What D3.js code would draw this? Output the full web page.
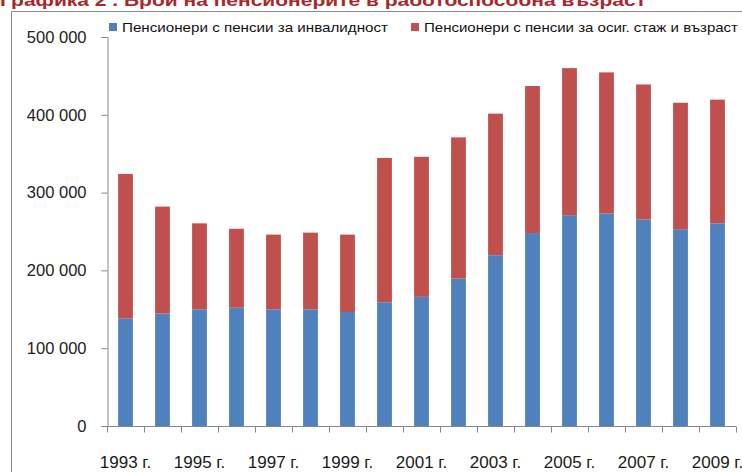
<!DOCTYPE html>
<html>
<head>
<meta charset="utf-8">
<script src="https://cdn.jsdelivr.net/npm/d3@7"></script>
<style>
  body { margin: 0; background: #fff; }
  svg { display: block; font-family: "Liberation Sans", Arial, sans-serif; }
</style>
</head>
<body>
<div id="chart"></div>
<script>
var years = ["1993 г.", "1994 г.", "1995 г.", "1996 г.", "1997 г.", "1998 г.", "1999 г.", "2000 г.", "2001 г.",
  "2002 г.", "2003 г.", "2004 г.", "2005 г.", "2006 г.", "2007 г.", "2008 г.", "2009 г."];
var invalidity = [138000, 144500, 150000, 152000, 150000, 150000, 146500, 159000, 166000,
  189500, 219500, 248000, 271000, 273000, 265500, 253000, 260500];
var oldAge = [186000, 137500, 110500, 101500, 96000, 98500, 99500, 185500, 180000,
  181500, 182000, 189000, 189000, 181500, 173500, 162500, 159000];
var seriesNames = ["Пенсионери с пенсии за инвалидност", "Пенсионери с пенсии за осиг. стаж и възраст"];
var yTicks = [0, 100000, 200000, 300000, 400000, 500000];
var title = "Графика 2 . Брой на пенсионерите в работоспособна възраст";

var W = 742, H = 472;
var colors = ["#4f81bd", "#c0504d"];

var svg = d3.select("#chart").append("svg")
  .attr("width", W)
  .attr("height", H);

// title, mostly cut off by the top edge as in the source
svg.append("text")
  .attr("x", 0)
  .attr("y", 6)
  .attr("textLength", 646)
  .attr("lengthAdjust", "spacingAndGlyphs")
  .style("font-size", "17px")
  .style("font-weight", "bold")
  .style("fill", "#a6282b")
  .text(title);

// outer frame
svg.append("path")
  .attr("d", "M11.5," + H + "V11.5H" + W)
  .attr("fill", "none")
  .attr("stroke", "#8a8a8a");

var rows = years.map(function(y, i) {
  return {year: y, inv: invalidity[i], age: oldAge[i]};
});

var x = d3.scaleBand()
  .domain(years)
  .range([107, 736])
  .paddingInner(0.6)
  .paddingOuter(0.3);

var y = d3.scaleLinear()
  .domain([0, 500000])
  .range([426, 37]);

var stack = d3.stack().keys(["inv", "age"])(rows);

svg.selectAll("g.series")
  .data(stack)
  .enter()
  .append("g")
  .attr("class", "series")
  .style("fill", function(d, i) { return colors[i]; })
  .selectAll("rect")
  .data(function(d) { return d; })
  .enter()
  .append("rect")
  .attr("x", function(d) { return x(d.data.year); })
  .attr("y", function(d) { return y(d[1]); })
  .attr("width", x.bandwidth())
  .attr("height", function(d) { return y(d[0]) - y(d[1]); });

// y axis
var fmt = function(v) { return d3.format(",")(v).replace(/,/g, " "); };
var yAxis = svg.append("g")
  .attr("transform", "translate(107.5,0)")
  .call(d3.axisLeft(y).tickValues(yTicks).tickSize(6).tickPadding(15).tickFormat(fmt));
yAxis.selectAll("text").style("font-size", "16.5px").style("fill", "#222");
yAxis.select(".domain").attr("stroke", "#868686");
yAxis.selectAll(".tick line").attr("stroke", "#868686");

// x axis: ticks between categories, label every other year
var step = x.step();
var xAxisG = svg.append("g").attr("transform", "translate(0,426.5)");
xAxisG.append("line")
  .attr("x1", 107).attr("x2", 736)
  .attr("stroke", "#868686");
xAxisG.selectAll("line.tick")
  .data(d3.range(years.length + 1))
  .enter()
  .append("line")
  .attr("class", "tick")
  .attr("x1", function(i) { return Math.round(107 + i * step) + 0.5; })
  .attr("x2", function(i) { return Math.round(107 + i * step) + 0.5; })
  .attr("y1", 0).attr("y2", 6)
  .attr("stroke", "#868686");
xAxisG.selectAll("text")
  .data(years.filter(function(d, i) { return i % 2 === 0; }))
  .enter()
  .append("text")
  .attr("x", function(d) { return x(d) + x.bandwidth() / 2; })
  .attr("y", 41)
  .attr("text-anchor", "middle")
  .style("font-size", "17px")
  .style("fill", "#1a1a1a")
  .text(function(d) { return d; });

// legend
var legendX = [109, 411];
var legendW = [266, 314];
var legend = svg.selectAll("g.legend")
  .data(seriesNames)
  .enter()
  .append("g")
  .attr("class", "legend")
  .attr("transform", function(d, i) { return "translate(" + legendX[i] + ",0)"; });
legend.append("rect")
  .attr("x", 0).attr("y", 23)
  .attr("width", 8).attr("height", 8)
  .style("fill", function(d, i) { return colors[i]; });
legend.append("text")
  .attr("x", 13)
  .attr("y", 32)
  .attr("textLength", function(d, i) { return legendW[i]; })
  .attr("lengthAdjust", "spacingAndGlyphs")
  .style("font-size", "13px")
  .style("fill", "#111")
  .text(function(d) { return d; });
</script>
</body>
</html>
